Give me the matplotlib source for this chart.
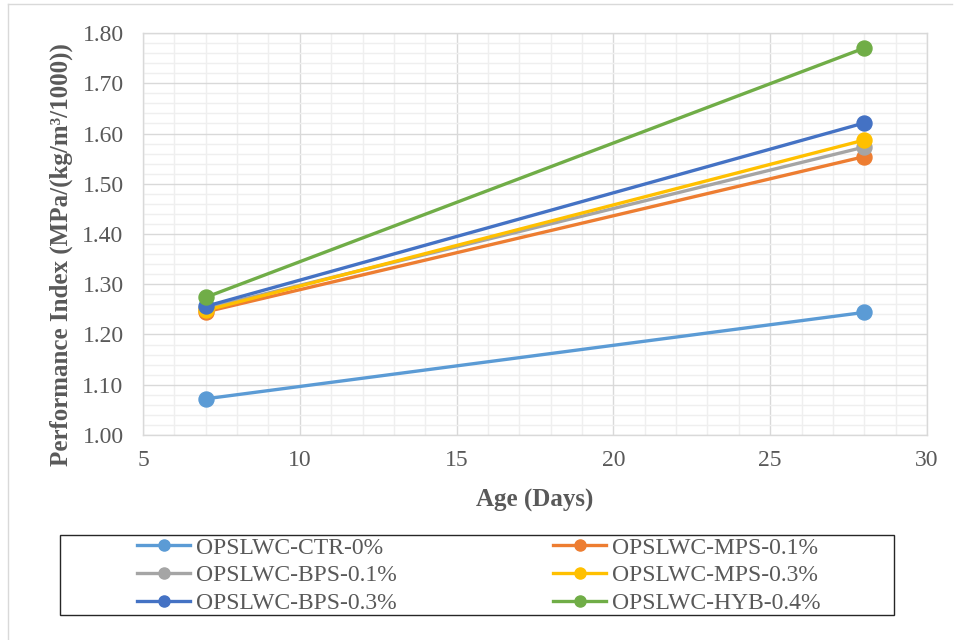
import matplotlib
matplotlib.use("Agg")
import matplotlib.pyplot as plt
from matplotlib.patches import Rectangle
from matplotlib.lines import Line2D
from matplotlib.ticker import MultipleLocator, FormatStrFormatter

plt.rcParams['font.family'] = ['Liberation Serif', 'DejaVu Serif']

ages = [7, 28]
series_names = [
    "OPSLWC-CTR-0%",
    "OPSLWC-MPS-0.1%",
    "OPSLWC-BPS-0.1%",
    "OPSLWC-MPS-0.3%",
    "OPSLWC-BPS-0.3%",
    "OPSLWC-HYB-0.4%",
]
ctr_0 = [1.072, 1.244]
mps_01 = [1.245, 1.554]
bps_01 = [1.252, 1.573]
mps_03 = [1.248, 1.587]
bps_03 = [1.256, 1.621]
hyb_04 = [1.274, 1.770]
series_values = [ctr_0, mps_01, bps_01, mps_03, bps_03, hyb_04]
colors = ["#5B9BD5", "#ED7D31", "#A5A5A5", "#FFC000", "#4472C4", "#70AD47"]

W, H = 961, 640
fig = plt.figure(figsize=(W / 100, H / 100), dpi=100)
# plot area in pixel terms: x 143..927, y 33..435
ax = fig.add_axes([143 / W, 1 - 435 / H, (927 - 143) / W, (435 - 33) / H])

handles = {}
for name, vals, c in zip(series_names, series_values, colors):
    h, = ax.plot(ages, vals, color=c, lw=2.4, marker='o', ms=10.8,
                 markeredgecolor=c, zorder=3)
    handles[name] = h

ax.set_xlim(5, 30)
ax.set_ylim(1.0, 1.8)
ax.xaxis.set_major_locator(MultipleLocator(5))
ax.xaxis.set_minor_locator(MultipleLocator(1))
ax.yaxis.set_major_locator(MultipleLocator(0.1))
ax.yaxis.set_minor_locator(MultipleLocator(0.02))
ax.yaxis.set_major_formatter(FormatStrFormatter('%.2f'))

ax.grid(which='major', color='#d9d9d9', lw=1.0, zorder=0)
ax.grid(which='minor', color='#efefef', lw=1.0, zorder=0)
ax.set_axisbelow(True)
for s in ax.spines.values():
    s.set_color('#d9d9d9')
    s.set_linewidth(1.0)
ax.tick_params(which='both', length=0, labelsize=17, colors='#595959')
ax.tick_params(axis='y', pad=14)
ax.tick_params(axis='x', pad=11)

ax.set_xlabel("Age (Days)", fontsize=18, fontweight='bold', color='#595959')
ax.set_ylabel("Performance Index (MPa/(kg/m³/1000))", fontsize=18,
              fontweight='bold', color='#595959')
ax.xaxis.set_label_coords(0.5, -0.133)
ax.yaxis.set_label_coords(-0.089, 0.448)

# legend: frame drawn separately, two columns placed side by side
fig.patches.append(Rectangle((60 / W, 1 - 615 / H), 834 / W, 80 / H,
                             transform=fig.transFigure, fill=False,
                             edgecolor='#262626', lw=1.0))


def legend_handle(c):
    return Line2D([], [], color=c, lw=2.4, marker='o', ms=8, markeredgecolor=c)


columns = [
    (137, ["OPSLWC-CTR-0%", "OPSLWC-BPS-0.1%", "OPSLWC-BPS-0.3%"]),
    (553, ["OPSLWC-MPS-0.1%", "OPSLWC-MPS-0.3%", "OPSLWC-HYB-0.4%"]),
]
for x0, names in columns:
    hs = [legend_handle(colors[series_names.index(n)]) for n in names]
    fig.legend(hs, names, loc='upper left',
               bbox_to_anchor=(x0 / W, 1 - 537 / H),
               frameon=False, fontsize=17, labelcolor='#595959',
               handlelength=2.25, handletextpad=0.25, labelspacing=0.26,
               borderpad=0, borderaxespad=0)

# partial outer border along the left and top edges
fig.add_artist(Line2D([8 / W, 8 / W], [0, 1 - 4 / H], transform=fig.transFigure,
                      color='#d9d9d9', lw=1.0))
fig.add_artist(Line2D([8 / W, 952 / W], [1 - 4 / H, 1 - 4 / H],
                      transform=fig.transFigure, color='#d9d9d9', lw=1.0))

fig.savefig("out.png", dpi=100)
